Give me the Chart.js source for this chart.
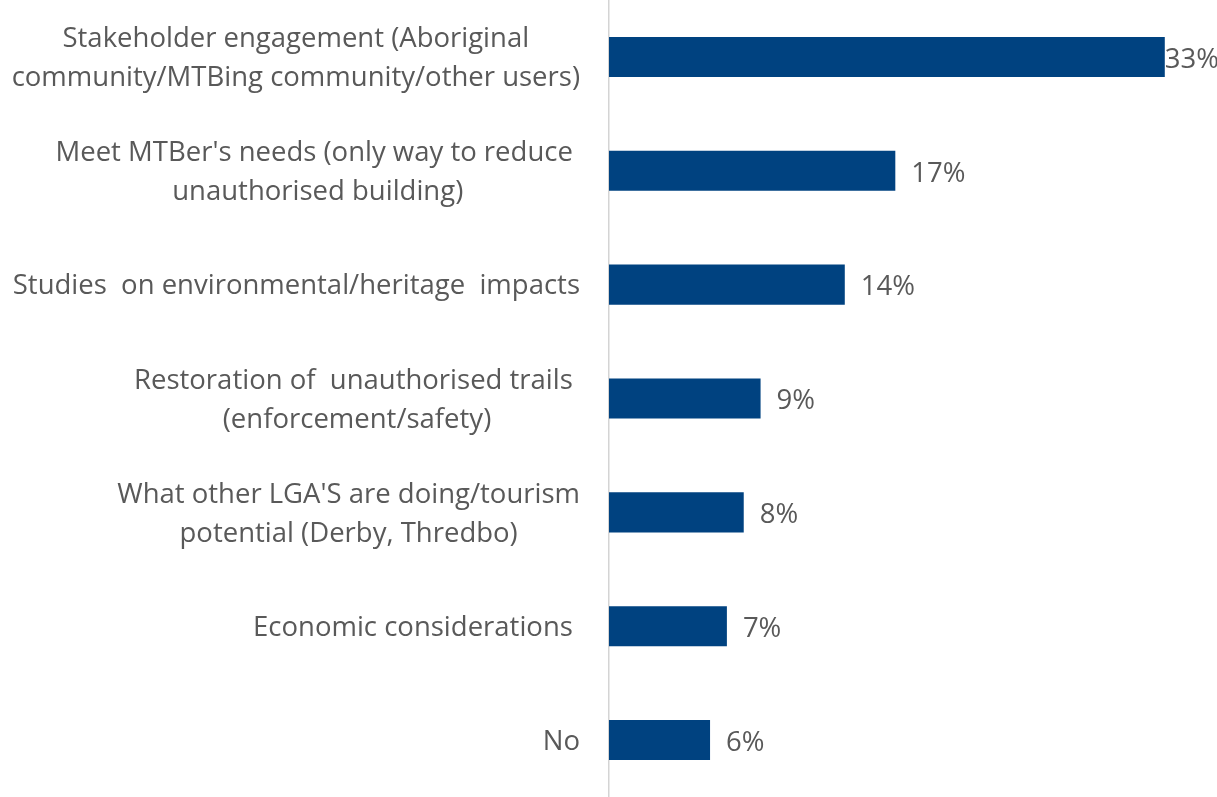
<!DOCTYPE html>
<html>
<head>
<meta charset="utf-8">
<script src="https://cdn.jsdelivr.net/npm/chart.js@4"></script>
<style>
  html, body { margin: 0; padding: 0; background: #fff; }
  #wrap { width: 1217px; height: 797px; position: relative; }
</style>
</head>
<body>
<div id="wrap"><canvas id="factorsChart"></canvas></div>
<script>
// Factors raised, share of responses (%)
const categories = [
    ['Stakeholder engagement (Aboriginal', 'community/MTBing community/other users)'],
    ["Meet MTBer's needs (only way to reduce ", 'unauthorised building)'],
    ['Studies  on environmental/heritage  impacts'],
    ['Restoration of  unauthorised trails ', '(enforcement/safety)'],
    ["What other LGA'S are doing/tourism", 'potential (Derby, Thredbo)'],
    ['Economic considerations '],
    ['No']
];
const shares = [33, 17, 14, 9, 8, 7, 6];
const valueLabels = ['33%', '17%', '14%', '9%', '8%', '7%', '6%'];

const FONT = '27.5px "Open Sans", sans-serif';
const TEXT_COLOR = '#595959';

// Category labels: block right-aligned next to the axis, lines centred inside the block
const categoryLabels = {
    id: 'categoryLabels',
    afterDraw(chart) {
        const ctx = chart.ctx;
        const yScale = chart.scales.y;
        const right = chart.chartArea.left - 29;
        const lineHeight = 39;
        ctx.save();
        ctx.font = FONT;
        ctx.fillStyle = TEXT_COLOR;
        ctx.textAlign = 'center';
        ctx.textBaseline = 'middle';
        categories.forEach((lines, i) => {
            const yc = yScale.getPixelForValue(i) + 2;
            const blockWidth = Math.max(...lines.map(l => ctx.measureText(l).width));
            const cx = right - blockWidth / 2;
            const top = yc - (lines.length - 1) * lineHeight / 2;
            lines.forEach((line, j) => ctx.fillText(line, cx, top + j * lineHeight));
        });
        ctx.restore();
    }
};

// Percent labels just past the end of each bar
const valueTags = {
    id: 'valueTags',
    afterDatasetsDraw(chart) {
        const ctx = chart.ctx;
        const meta = chart.getDatasetMeta(0);
        ctx.save();
        ctx.font = FONT;
        ctx.fillStyle = TEXT_COLOR;
        ctx.textAlign = 'left';
        ctx.textBaseline = 'middle';
        meta.data.forEach((bar, i) => {
            const text = valueLabels[i];
            const w = ctx.measureText(text).width;
            let x = bar.x + 16;
            if (x + w > chart.width) x = Math.max(bar.x, chart.width - w);
            ctx.fillText(text, x, bar.y + 3);
        });
        ctx.restore();
    }
};

new Chart(document.getElementById('factorsChart'), {
    type: 'bar',
    data: {
        labels: categories.map(c => c.join(' ')),
        datasets: [{
            data: shares,
            backgroundColor: '#004280',
            borderWidth: 0,
            barPercentage: 1,
            categoryPercentage: 0.352
        }]
    },
    options: {
        indexAxis: 'y',
        responsive: true,
        maintainAspectRatio: false,
        animation: false,
        layout: { padding: { left: 609, top: 0, right: 0, bottom: 0 } },
        scales: {
            x: {
                display: false,
                min: 0,
                max: 36.1
            },
            y: {
                ticks: { display: false },
                grid: { display: false, drawTicks: false },
                border: { display: true, color: '#d4d4d4', width: 1.5 }
            }
        },
        plugins: {
            legend: { display: false },
            tooltip: { enabled: false }
        }
    },
    plugins: [categoryLabels, valueTags]
});
</script>
</body>
</html>
